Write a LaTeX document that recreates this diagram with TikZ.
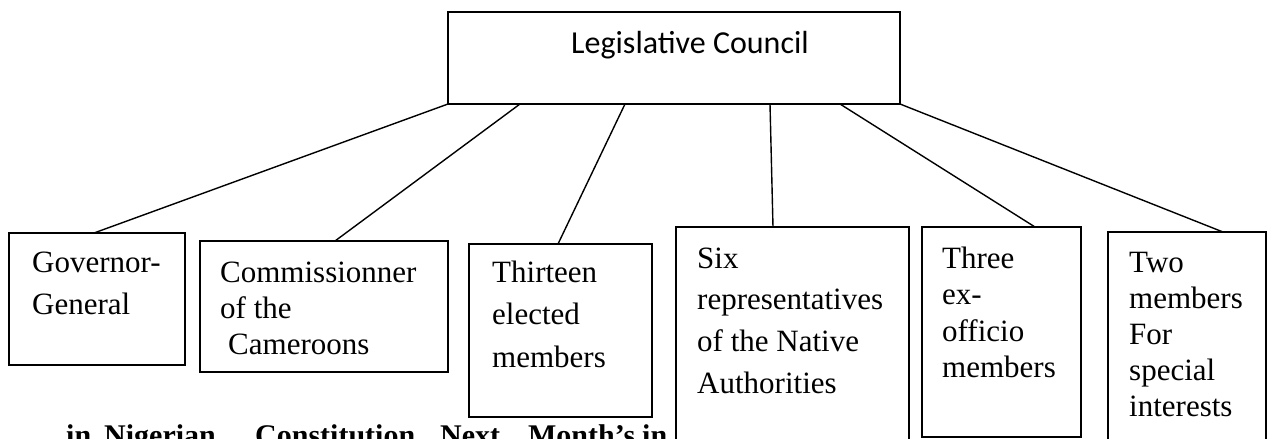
\documentclass[tikz,border=0pt]{standalone}
\usepackage{fontspec}
\setmainfont{Liberation Serif}
\newfontfamily\calfont{Carlito}
\usetikzlibrary{calc}
\newcommand\mystrut{\rule{0pt}{22pt}}
\begin{document}
\begin{tikzpicture}[x=1pt,y=-1pt,
  box/.style={draw, fill=white, line width=1.6pt, rectangle, inner sep=0pt, outer sep=0pt, anchor=north west},
  conn/.style={line width=1.4pt},
  txt/.style={anchor=north west, inner sep=0pt, align=left}]
\useasboundingbox (0,0) rectangle (1272,439);
\clip (0,0) rectangle (1272,439);
% cut-off heading below the chart
\node[anchor=base west, inner sep=0pt, font=\bfseries\fontsize{30}{34}\selectfont] (head) at (66,445)
  {\makebox[38pt][l]{in}\makebox[151pt][l]{Nigerian}\makebox[185pt][l]{Constitution}\makebox[88pt][l]{Next}\makebox[114pt][l]{Month's}in the};
% boxes
\node[box, minimum width=452, minimum height=92] (lc) at (448,12) {};
\node[box, minimum width=176, minimum height=132] (gov) at (9,233) {};
\node[box, minimum width=248, minimum height=131] (comm) at (200,241) {};
\node[box, minimum width=183, minimum height=173] (thir) at (469,244) {};
\node[box, minimum width=233, minimum height=240] (six) at (676,227) {};
\node[box, minimum width=159, minimum height=210] (three) at (922,227) {};
\node[box, minimum width=158, minimum height=240] (two) at (1108,232) {};
% texts
\node[anchor=base, inner sep=0pt, font=\calfont\fontsize{32}{38}\selectfont] (lct) at (690,53) {Legislative Council};
\node[txt, font=\fontsize{31}{42}\selectfont] (govt) at (32,250) {\mystrut Governor-\\General};
\node[txt, font=\fontsize{31}{36}\selectfont] (commt) at (220,260) {\mystrut Commissionner\\of the\\\hspace{8pt}Cameroons};
\node[txt, font=\fontsize{31}{42.5}\selectfont] (thirt) at (492,260) {\mystrut Thirteen\\elected\\members};
\node[txt, font=\fontsize{31}{41.7}\selectfont] (sixt) at (697,246) {\mystrut Six\\representatives\\of the Native\\Authorities};
\node[txt, font=\fontsize{31}{36.5}\selectfont] (threet) at (942,246) {\mystrut Three\\ex-\\officio\\members};
\node[txt, font=\fontsize{31}{36}\selectfont] (twot) at (1129,250) {\mystrut Two\\members\\For\\special\\interests};
% connector end points
\coordinate (s2) at ($(lc.south west)+(72,0)$);
\coordinate (s3) at ($(lc.south west)+(177,0)$);
\coordinate (s4) at ($(lc.south west)+(322,0)$);
\coordinate (s5) at ($(lc.south west)+(392,0)$);
\coordinate (e1) at ($(gov.north west)+(85,0)$);
\coordinate (e2) at ($(comm.north west)+(135,0)$);
\coordinate (e3) at ($(thir.north west)+(89,0)$);
\coordinate (e4) at ($(six.north west)+(97,0)$);
\coordinate (e5) at ($(three.north west)+(113,0)$);
\coordinate (e6) at ($(two.north west)+(115,0)$);
\draw[conn] (lc.south west) -- (e1);
\draw[conn] (s2) -- (e2);
\draw[conn] (s3) -- (e3);
\draw[conn] (s4) -- (e4);
\draw[conn] (s5) -- (e5);
\draw[conn] (lc.south east) -- (e6);
\end{tikzpicture}
\end{document}
